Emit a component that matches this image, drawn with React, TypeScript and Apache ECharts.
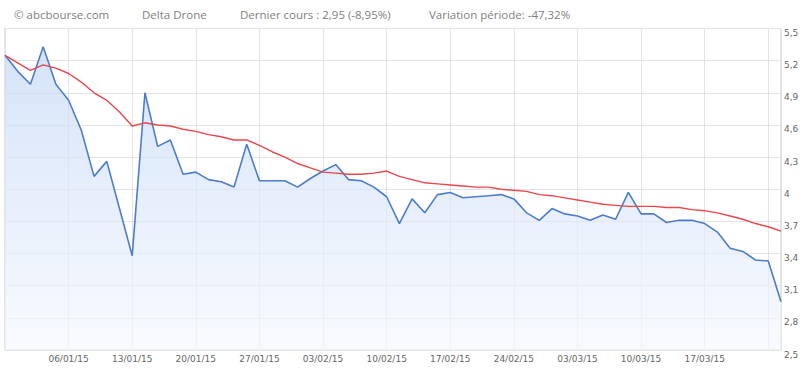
import React, { useEffect, useRef } from "react";
import * as echarts from "echarts";

const dates = [
  "29/12/14", "30/12/14", "31/12/14", "02/01/15", "05/01/15",
  "06/01/15", "07/01/15", "08/01/15", "09/01/15", "12/01/15",
  "13/01/15", "14/01/15", "15/01/15", "16/01/15", "19/01/15",
  "20/01/15", "21/01/15", "22/01/15", "23/01/15", "26/01/15",
  "27/01/15", "28/01/15", "29/01/15", "30/01/15", "02/02/15",
  "03/02/15", "04/02/15", "05/02/15", "06/02/15", "09/02/15",
  "10/02/15", "11/02/15", "12/02/15", "13/02/15", "16/02/15",
  "17/02/15", "18/02/15", "19/02/15", "20/02/15", "23/02/15",
  "24/02/15", "25/02/15", "26/02/15", "27/02/15", "02/03/15",
  "03/03/15", "04/03/15", "05/03/15", "06/03/15", "09/03/15",
  "10/03/15", "11/03/15", "12/03/15", "13/03/15", "16/03/15",
  "17/03/15", "18/03/15", "19/03/15", "20/03/15", "23/03/15",
  "24/03/15", "25/03/15",
];

const cours = [
  5.25, 5.10, 4.98, 5.33, 4.98,
  4.83, 4.55, 4.12, 4.26, 3.82,
  3.38, 4.90, 4.40, 4.46, 4.14,
  4.16, 4.09, 4.07, 4.02, 4.42,
  4.08, 4.08, 4.08, 4.02, 4.10,
  4.17, 4.23, 4.09, 4.08, 4.02,
  3.93, 3.68, 3.91, 3.78, 3.95,
  3.97, 3.92, 3.93, 3.94, 3.95,
  3.91, 3.78, 3.71, 3.82, 3.77,
  3.75, 3.71, 3.76, 3.72, 3.97,
  3.77, 3.77, 3.69, 3.71, 3.71,
  3.68, 3.60, 3.45, 3.42, 3.34,
  3.33, 2.95,
];

const moyenne = [
  5.25, 5.18, 5.11, 5.16, 5.13,
  5.08, 5.00, 4.90, 4.83, 4.72,
  4.59, 4.62, 4.60, 4.59, 4.56,
  4.54, 4.51, 4.49, 4.46, 4.46,
  4.41, 4.35, 4.30, 4.24, 4.20,
  4.16, 4.15, 4.14, 4.14, 4.15,
  4.17, 4.12, 4.09, 4.06, 4.05,
  4.04, 4.03, 4.02, 4.02, 4.00,
  3.99, 3.98, 3.95, 3.94, 3.92,
  3.90, 3.88, 3.86, 3.85, 3.84,
  3.84, 3.84, 3.83, 3.83, 3.81,
  3.80, 3.78, 3.75, 3.72, 3.68,
  3.65, 3.61,
];

const headerTexts = [
  "© abcbourse.com",
  "Delta Drone",
  "Dernier cours : 2,95 (-8,95%)",
  "Variation période: -47,32%",
];

const headerX = [14, 142, 240, 429];

export default function App() {
  const ref = useRef<HTMLDivElement>(null);

  useEffect(() => {
    if (!ref.current) return;
    const chart = echarts.init(ref.current, undefined, { renderer: "svg" });
    const labelShown = (i: number) => i >= 5 && (i - 5) % 5 === 0 && i <= 55;
    const lineShown = (i: number) => i >= 5 && (i - 5) % 5 === 0;
    chart.setOption({
      animation: false,
      backgroundColor: "#ffffff",
      grid: {
        left: 5,
        right: 27,
        top: 28.5,
        bottom: 19,
        show: true,
        borderColor: "#c8c8c8",
        borderWidth: 1,
        backgroundColor: "transparent",
      },
      graphic: headerTexts.map((t, i) => ({
        type: "text",
        left: headerX[i],
        top: 8,
        style: {
          text: t,
          fill: "#808080",
          font: "11.5px 'Open Sans', sans-serif",
        },
      })),
      xAxis: {
        type: "category",
        data: dates,
        boundaryGap: false,
        axisLine: { show: false },
        axisTick: { show: false },
        axisLabel: {
          interval: (i: number) => labelShown(i),
          color: "#666666",
          fontSize: 9,
          fontFamily: "DejaVu Sans",
          margin: 4,
        },
        splitLine: {
          show: true,
          interval: (i: number) => lineShown(i),
          lineStyle: { color: "#e3e3e3", width: 1 },
        },
      },
      yAxis: {
        type: "value",
        position: "right",
        min: 2.5,
        max: 5.5,
        interval: 0.3,
        axisLine: { show: false },
        axisTick: { show: false },
        axisLabel: {
          color: "#666666",
          fontSize: 9,
          fontFamily: "DejaVu Sans",
          margin: 3,
          verticalAlign: "top",
          formatter: (v: number) => String(Math.round(v * 10) / 10).replace(".", ","),
        },
        splitLine: { show: true, lineStyle: { color: "#e3e3e3", width: 1 } },
      },
      series: [
        {
          name: "Cours",
          type: "line",
          data: cours,
          symbol: "none",
          lineStyle: { color: "#4d7cca", width: 1.6 },
          areaStyle: {
            color: new echarts.graphic.LinearGradient(0, 0, 0, 1, [
              { offset: 0, color: "#c4d8f6" },
              { offset: 1, color: "#f5f8fe" },
            ]),
            origin: "start",
          },
          z: 2,
        },
        {
          name: "Moyenne",
          type: "line",
          data: moyenne,
          symbol: "none",
          lineStyle: { color: "#e8474c", width: 1.4 },
          z: 3,
        },
      ],
    });
    return () => chart.dispose();
  }, []);

  return (
    <div
      ref={ref}
      style={{ position: "absolute", left: 0, top: 0, width: 808, height: 369 }}
    />
  );
}
